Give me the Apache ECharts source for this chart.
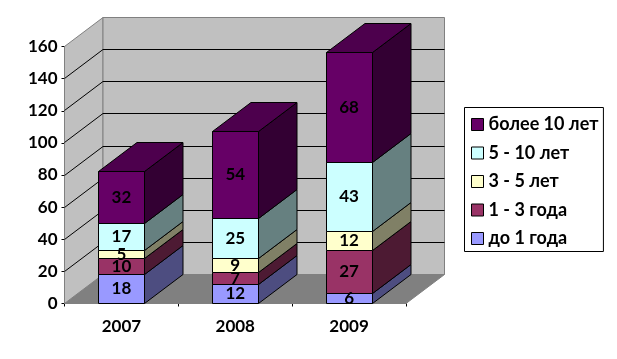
<!DOCTYPE html>
<html><head><meta charset="utf-8">
<style>html,body{margin:0;padding:0;background:#fff}#c{width:617px;height:359px}</style>
<script src="https://cdn.jsdelivr.net/npm/echarts@6/dist/echarts.min.js"></script>
</head><body><div id="c"></div>
<script>
const categories = ['2007', '2008', '2009'];
const seriesNames = ['до 1 года', '1 - 3 года', '3 - 5 лет', '5 - 10 лет', 'более 10 лет'];
const upTo1 = [18, 12, 6];
const from1to3 = [10, 7, 27];
const from3to5 = [5, 9, 12];
const from5to10 = [17, 25, 43];
const over10 = [32, 54, 68];
const seriesValues = [upTo1, from1to3, from3to5, from5to10, over10];
const yTicks = [0, 160, 20];

const colors = ['#9999FF', '#993366', '#FFFFCC', '#CCFFFF', '#660066'];
const FONT = 'Lato, "Noto Sans", sans-serif';
const DX = 38.5, DY = -29, BAR = 46;

function shade(hex, k) {
  const n = parseInt(hex.slice(1), 16);
  const c = s => Math.round(((n >> s) & 255) * k);
  return 'rgb(' + c(16) + ',' + c(8) + ',' + c(0) + ')';
}
function snap(v) { return Math.floor(v) + 0.5; }
function poly(points, fill, stroke, lw) {
  return { type: 'polygon', shape: { points }, style: { fill, stroke, lineWidth: lw == null ? 1 : lw } };
}
function line(a, b, stroke) {
  return { type: 'line', shape: { x1: a[0], y1: a[1], x2: b[0], y2: b[1] }, style: { stroke, lineWidth: 1, fill: null } };
}

function renderWalls(params, api) {
  const cs = params.coordSys;
  const l = cs.x, r = cs.x + cs.width;
  const y0 = api.coord([0, 0])[1], yT = api.coord([0, yTicks[1]])[1];
  const out = [
    poly([[l, y0], [l + DX, y0 + DY], [r + DX, y0 + DY], [r, y0]], '#808080', '#808080'),
    poly([[l, yT], [l + DX, yT + DY], [l + DX, y0 + DY], [l, y0]], '#C0C0C0', '#808080'),
    poly([[l + DX, yT + DY], [r + DX, yT + DY], [r + DX, y0 + DY], [l + DX, y0 + DY]], '#C0C0C0', '#808080')
  ];
  for (let v = yTicks[2]; v < yTicks[1]; v += yTicks[2]) {
    const y = snap(api.coord([0, v])[1]);
    out.push(line([l, y], [l + DX, y + DY], '#000'));
    out.push(line([l + DX, y + DY], [r + DX, y + DY], '#000'));
  }
  return { type: 'group', children: out };
}

function renderSegment(params, api) {
  const i = api.value(0), base = api.value(1), val = api.value(2), isTop = api.value(3);
  const c = api.coord([i, base]), t = api.coord([i, base + val]);
  const xL = snap(c[0] - BAR / 2), xR = snap(c[0] + BAR / 2), yB = snap(c[1]), yT = snap(t[1]);
  const col = colors[params.seriesIndex - 1];
  const kids = [
    poly([[xR, yB], [xR + DX, yB + DY], [xR + DX, yT + DY], [xR, yT]], shade(col, 0.5), '#000'),
    poly([[xL, yB], [xR, yB], [xR, yT], [xL, yT]], col, '#000')
  ];
  if (isTop) kids.push(poly([[xL, yT], [xL + DX, yT + DY], [xR + DX, yT + DY], [xR, yT]], shade(col, 0.75), '#000'));
  kids.push({ type: 'text', z2: 100, style: {
    x: c[0], y: (yB + yT) / 2, text: String(val), align: 'center', verticalAlign: 'middle',
    fill: '#000', font: 'bold 17px ' + FONT } });
  return { type: 'group', children: kids };
}

const cum = categories.map(() => 0);
const barSeries = seriesNames.map((name, s) => ({
  name, type: 'custom', renderItem: renderSegment,
  itemStyle: { color: colors[s] },
  data: categories.map((_, i) => {
    const d = [i, cum[i], seriesValues[s][i], s === seriesNames.length - 1 ? 1 : 0];
    cum[i] += seriesValues[s][i];
    return d;
  }),
  encode: { x: 0, y: [1] }, silent: true
}));

const chart = echarts.init(document.getElementById('c'), null, { renderer: 'canvas' });
chart.setOption({
  animation: false,
  backgroundColor: '#fff',
  grid: { left: 64.5, top: 46.5, width: 341.5, height: 257, containLabel: false },
  legend: {
    orient: 'vertical', left: 464.5, top: 107.5,
    data: seriesNames.slice().reverse(),
    backgroundColor: '#fff', borderColor: '#000', borderWidth: 1,
    padding: [8, 5, 4, 6.5],
    itemWidth: 12, itemHeight: 12, itemGap: 10.5, icon: 'rect',
    itemStyle: { borderColor: '#000', borderWidth: 1 },
    textStyle: { fontFamily: FONT, fontWeight: 'bold', fontSize: 18, color: '#000', lineHeight: 18 }
  },
  xAxis: {
    type: 'category', data: categories,
    axisLine: { show: true, lineStyle: { color: '#000', width: 1 } },
    axisTick: { show: true, length: 3, lineStyle: { color: '#000' } },
    axisLabel: { color: '#000', fontFamily: FONT, fontWeight: 'bold', fontSize: 17, margin: 15 },
    splitLine: { show: false }
  },
  yAxis: {
    type: 'value', min: yTicks[0], max: yTicks[1], interval: yTicks[2],
    axisLine: { show: true, lineStyle: { color: '#000', width: 1 } },
    axisTick: { show: true, length: 3, lineStyle: { color: '#000' } },
    axisLabel: { color: '#000', fontFamily: FONT, fontWeight: 'bold', fontSize: 17, margin: 7 },
    splitLine: { show: false }
  },
  series: [{
    type: 'custom', name: 'walls', renderItem: renderWalls, silent: true, z: 1,
    data: [[0, 0]], encode: { x: 0, y: 1 }
  }].concat(barSeries)
});
</script></body></html>
